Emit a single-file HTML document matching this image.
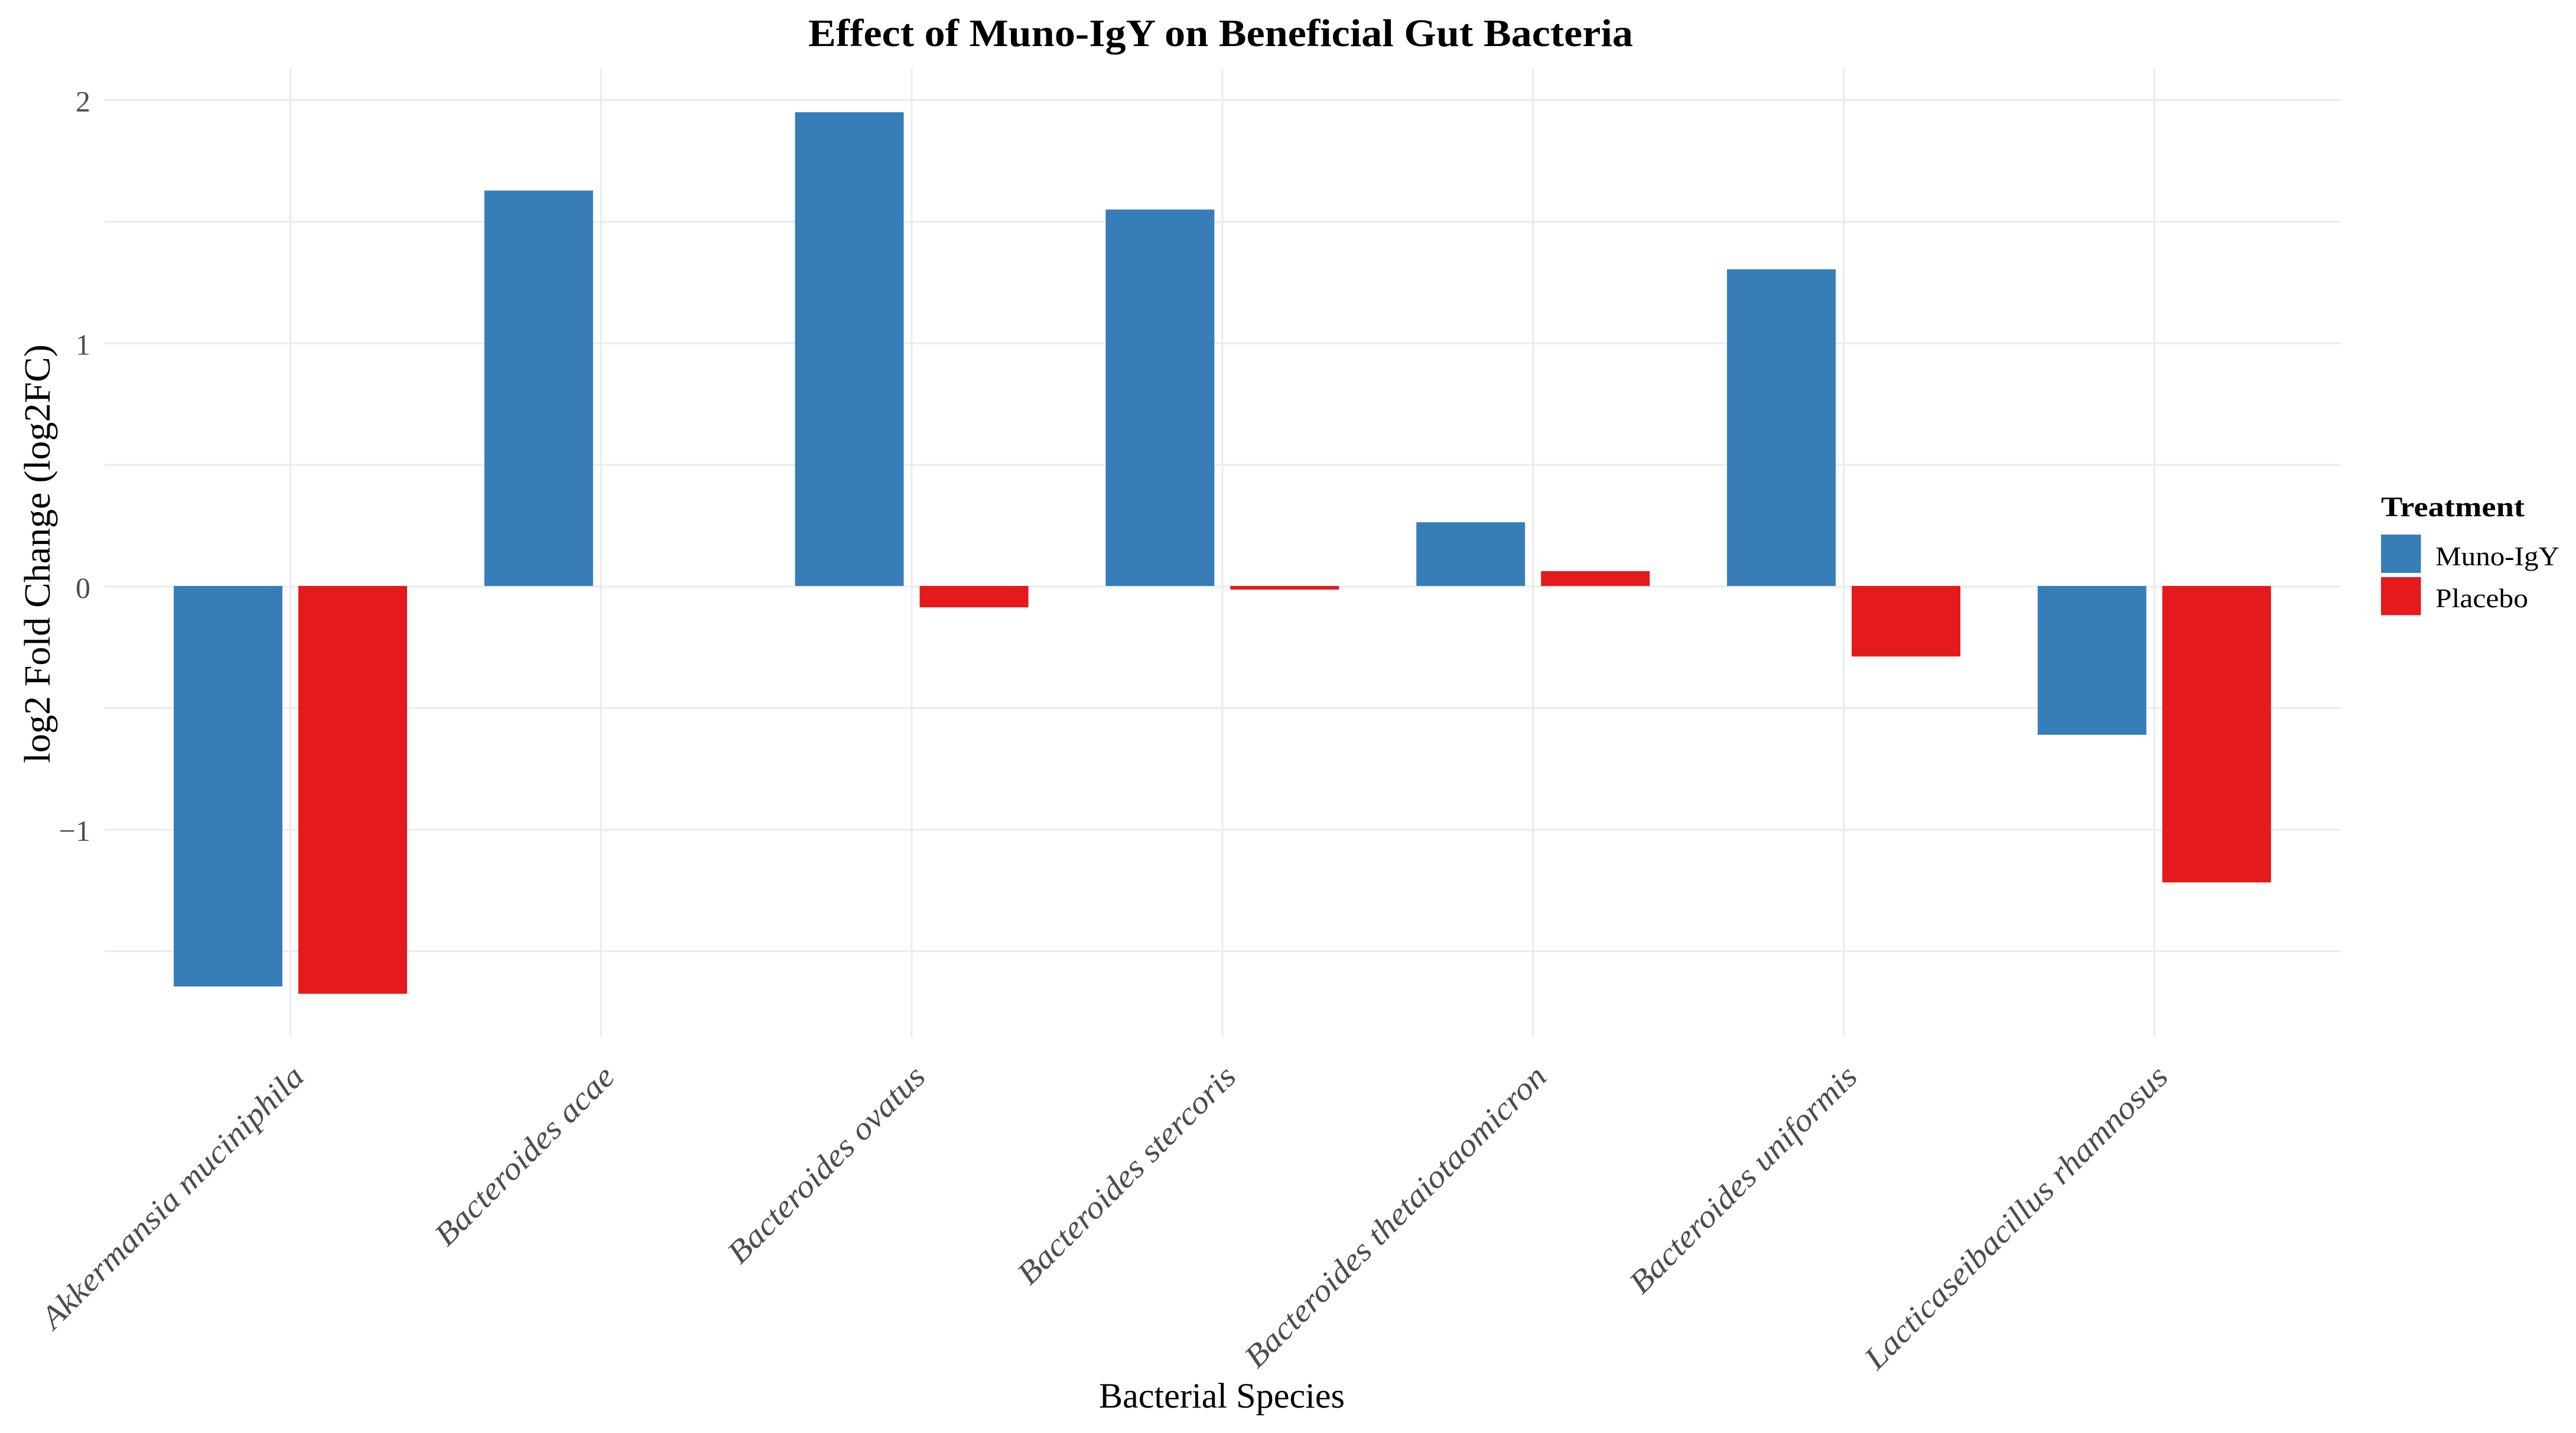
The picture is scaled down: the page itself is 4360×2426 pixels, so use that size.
<!DOCTYPE html>
<html lang="en">
<head>
<meta charset="utf-8">
<title>Effect of Muno-IgY on Beneficial Gut Bacteria</title>
<style>
  html, body { margin: 0; padding: 0; background: #ffffff; }
  body { width: 4360px; height: 2426px; overflow: hidden; }
  svg { display: block; }
  text { font-family: "Liberation Serif", serif; }
</style>
</head>
<body>
<svg id="chart" xmlns="http://www.w3.org/2000/svg" width="4360" height="2426" viewBox="0 0 4360 2426">
  <rect x="0" y="0" width="4360" height="2426" fill="#ffffff"/>
  <g id="grid"></g>
  <g id="bars"></g>
  <g id="y-ticks"></g>
  <g id="x-ticks"></g>

  <text x="1368" y="78" font-size="66" font-weight="700" fill="#000000" textLength="1396" lengthAdjust="spacingAndGlyphs">Effect of Muno-IgY on Beneficial Gut Bacteria</text>
  <text x="1860" y="2383" font-size="60" fill="#000000" textLength="416" lengthAdjust="spacingAndGlyphs">Bacterial Species</text>
  <text transform="translate(84,1292) rotate(-90)" font-size="62" fill="#000000" textLength="709" lengthAdjust="spacingAndGlyphs">log2 Fold Change (log2FC)</text>

  <g>
    <text x="4030" y="874" font-size="48" font-weight="700" fill="#000000" textLength="243" lengthAdjust="spacingAndGlyphs">Treatment</text>
    <rect x="4030" y="905" width="67.5" height="65" fill="#377EB8"/>
    <text x="4122" y="957" font-size="46" fill="#000000" textLength="210" lengthAdjust="spacingAndGlyphs">Muno-IgY</text>
    <rect x="4030" y="977" width="67.5" height="64.5" fill="#E41A1C"/>
    <text x="4122" y="1028" font-size="46" fill="#000000" textLength="157" lengthAdjust="spacingAndGlyphs">Placebo</text>
  </g>
</svg>

<script>
const categories = [
  "Akkermansia muciniphila",
  "Bacteroides acae",
  "Bacteroides ovatus",
  "Bacteroides stercoris",
  "Bacteroides thetaiotaomicron",
  "Bacteroides uniformis",
  "Lacticaseibacillus rhamnosus"
];
const munoIgyValues = [-1.647, 1.626, 1.948, 1.548, 0.262, 1.302, -0.612];
const placeboValues = [-1.677, 0, -0.088, -0.015, 0.061, -0.29, -1.219];
const yMajorTicks = [-1, 0, 1, 2];
const yMinorTicks = [-1.5, -0.5, 0.5, 1.5];
const yTickLabels = ["\u22121", "0", "1", "2"];

const SVG_NS = "http://www.w3.org/2000/svg";
const plotLeft = 177, plotRight = 3962, plotTop = 116, plotBottom = 1756;
const yZero = 992, yUnit = 411.7;
const xFirst = 491.5, xStep = 525.8;
const dodge = 105.5, barWidth = 184;
const labelScaleX = 1.09;

function xScale(i) { return xFirst + xStep * i; }
function yScale(v) { return yZero - yUnit * v; }
function make(tag, attrs, parent) {
  const el = document.createElementNS(SVG_NS, tag);
  for (const k in attrs) el.setAttribute(k, attrs[k]);
  parent.appendChild(el);
  return el;
}

const gridGroup = document.getElementById("grid");
const barGroup = document.getElementById("bars");
const yTickGroup = document.getElementById("y-ticks");
const xTickGroup = document.getElementById("x-ticks");

yMinorTicks.concat(yMajorTicks).forEach(function (t) {
  const line = make("line", { x1: plotLeft, x2: plotRight, y1: yScale(t) + 1, y2: yScale(t) + 1, stroke: "#ebebeb", "stroke-width": 3 }, gridGroup);
  
  
});

categories.forEach(function (c, i) {
  const line = make("line", { x1: xScale(i), x2: xScale(i), y1: plotTop, y2: plotBottom, stroke: "#ebebeb", "stroke-width": 3 }, gridGroup);
  
  
});

function drawBar(value, i, offset, fill, name) {
  const yA = yScale(value), yB = yScale(0);
  const cx = xScale(i) + offset;
  const rect = make("rect", {
    x: cx - barWidth / 2,
    y: Math.min(yA, yB),
    width: barWidth,
    height: Math.abs(yA - yB),
    fill: fill
  }, barGroup);
  
  
}

categories.forEach(function (c, i) {
  drawBar(munoIgyValues[i], i, -dodge, "#377EB8", "bar-muno-igy");
  drawBar(placeboValues[i], i, dodge, "#E41A1C", "bar-placebo");
});

yMajorTicks.forEach(function (t, i) {
  const label = make("text", { x: 153, y: yScale(t) + 20, "font-size": 50, "text-anchor": "end", fill: "#4d4d4d" }, yTickGroup);
  label.textContent = yTickLabels[i];
  
  
});

categories.forEach(function (c, i) {
  const label = make("text", {
    transform: "translate(" + (xScale(i) + 26) + ",1826) rotate(-45) scale(" + labelScaleX + ",1)",
    "font-size": 54,
    "font-style": "italic",
    "text-anchor": "end",
    fill: "#4d4d4d"
  }, xTickGroup);
  label.textContent = c;
  
  
});
</script>
</body>
</html>
